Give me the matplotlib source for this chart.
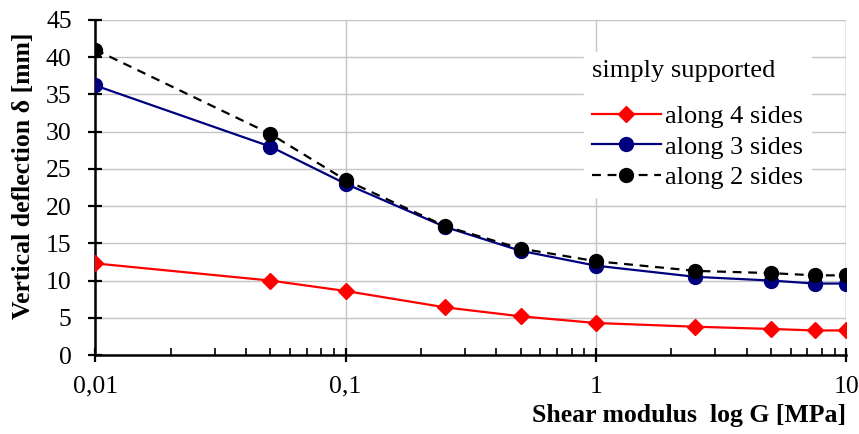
import matplotlib
matplotlib.use('Agg')
import matplotlib.pyplot as plt
from matplotlib.ticker import LogLocator, NullFormatter, FixedLocator, FixedFormatter

# data
G = [0.01, 0.05, 0.1, 0.25, 0.5, 1, 2.5, 5, 7.5, 10]
sides4 = [12.3, 10.0, 8.6, 6.4, 5.2, 4.3, 3.8, 3.5, 3.3, 3.3]
sides3 = [36.2, 28.0, 23.0, 17.2, 14.0, 12.0, 10.5, 10.0, 9.6, 9.6]
sides2 = [41.0, 29.7, 23.5, 17.3, 14.3, 12.6, 11.3, 11.0, 10.7, 10.7]
xticks = [0.01, 0.1, 1, 10]
xticklabels = ['0,01', '0,1', '1', '10']
yticks = [0, 5, 10, 15, 20, 25, 30, 35, 40, 45]

plt.rcParams['font.family'] = ['Liberation Serif', 'DejaVu Serif']

fig = plt.figure(figsize=(8.59, 4.34), dpi=100)
ax = fig.add_axes([0.111, 0.182, 0.874, 0.772])

ax.plot(G, sides4, '-', color='#ff0000', lw=1.6, marker='D', ms=8.5,
        mfc='#ff0000', mec='#ff0000', label='along 4 sides', zorder=3)
ax.plot(G, sides3, '-', color='#00007f', lw=1.6, marker='o', ms=10,
        mfc='#00007f', mec='#00007f', label='along 3 sides', zorder=3)
ax.plot(G, sides2, '--', color='black', lw=1.6, marker='o', ms=10,
        mfc='black', mec='black', label='along 2 sides', zorder=4,
        dashes=(4, 3))

ax.set_xscale('log')
ax.set_xlim(0.01, 10)
ax.set_ylim(0, 45)
ax.xaxis.set_major_locator(FixedLocator(xticks))
ax.xaxis.set_major_formatter(FixedFormatter(xticklabels))
ax.xaxis.set_minor_locator(LogLocator(base=10, subs=range(2, 10)))
ax.xaxis.set_minor_formatter(NullFormatter())
ax.set_yticks(yticks)

ax.grid(True, which='major', color='#c4c4c4', lw=1)
ax.set_axisbelow(True)
for s in ['top', 'right']:
    ax.spines[s].set_visible(False)
for s in ['left', 'bottom']:
    ax.spines[s].set_linewidth(1.8)
ax.axvline(10, color='#c4c4c4', lw=1, zorder=0)

ax.tick_params(axis='both', which='major', direction='inout', length=10,
               width=1.6, labelsize=18.5, colors='black')
ax.tick_params(axis='x', which='minor', direction='in', length=5, width=1.2)
ax.tick_params(axis='x', which='major', pad=10)
ax.tick_params(axis='y', which='major', pad=12)

fig.text(0.027, 0.594, 'Vertical deflection \u03b4 [mm]', rotation=90,
         ha='center', va='center', fontsize=18.5, fontweight='bold')
fig.text(0.985, 0.015, 'Shear modulus  log G [MPa]', ha='right',
         va='bottom', fontsize=18.5, fontweight='bold')

leg = ax.legend(title='simply supported', loc='upper left',
                bbox_to_anchor=(0.651, 0.904), fontsize=19,
                title_fontsize=19, frameon=True, fancybox=False,
                handlelength=2.6, handletextpad=0.15, labelspacing=0.28,
                borderpad=0.3, borderaxespad=0)
leg.get_frame().set_edgecolor('white')
leg.get_frame().set_facecolor('white')
leg.get_frame().set_alpha(1)
leg._legend_box.align = 'left'
leg._legend_box.sep = 16

fig.savefig('out.png', dpi=100)
